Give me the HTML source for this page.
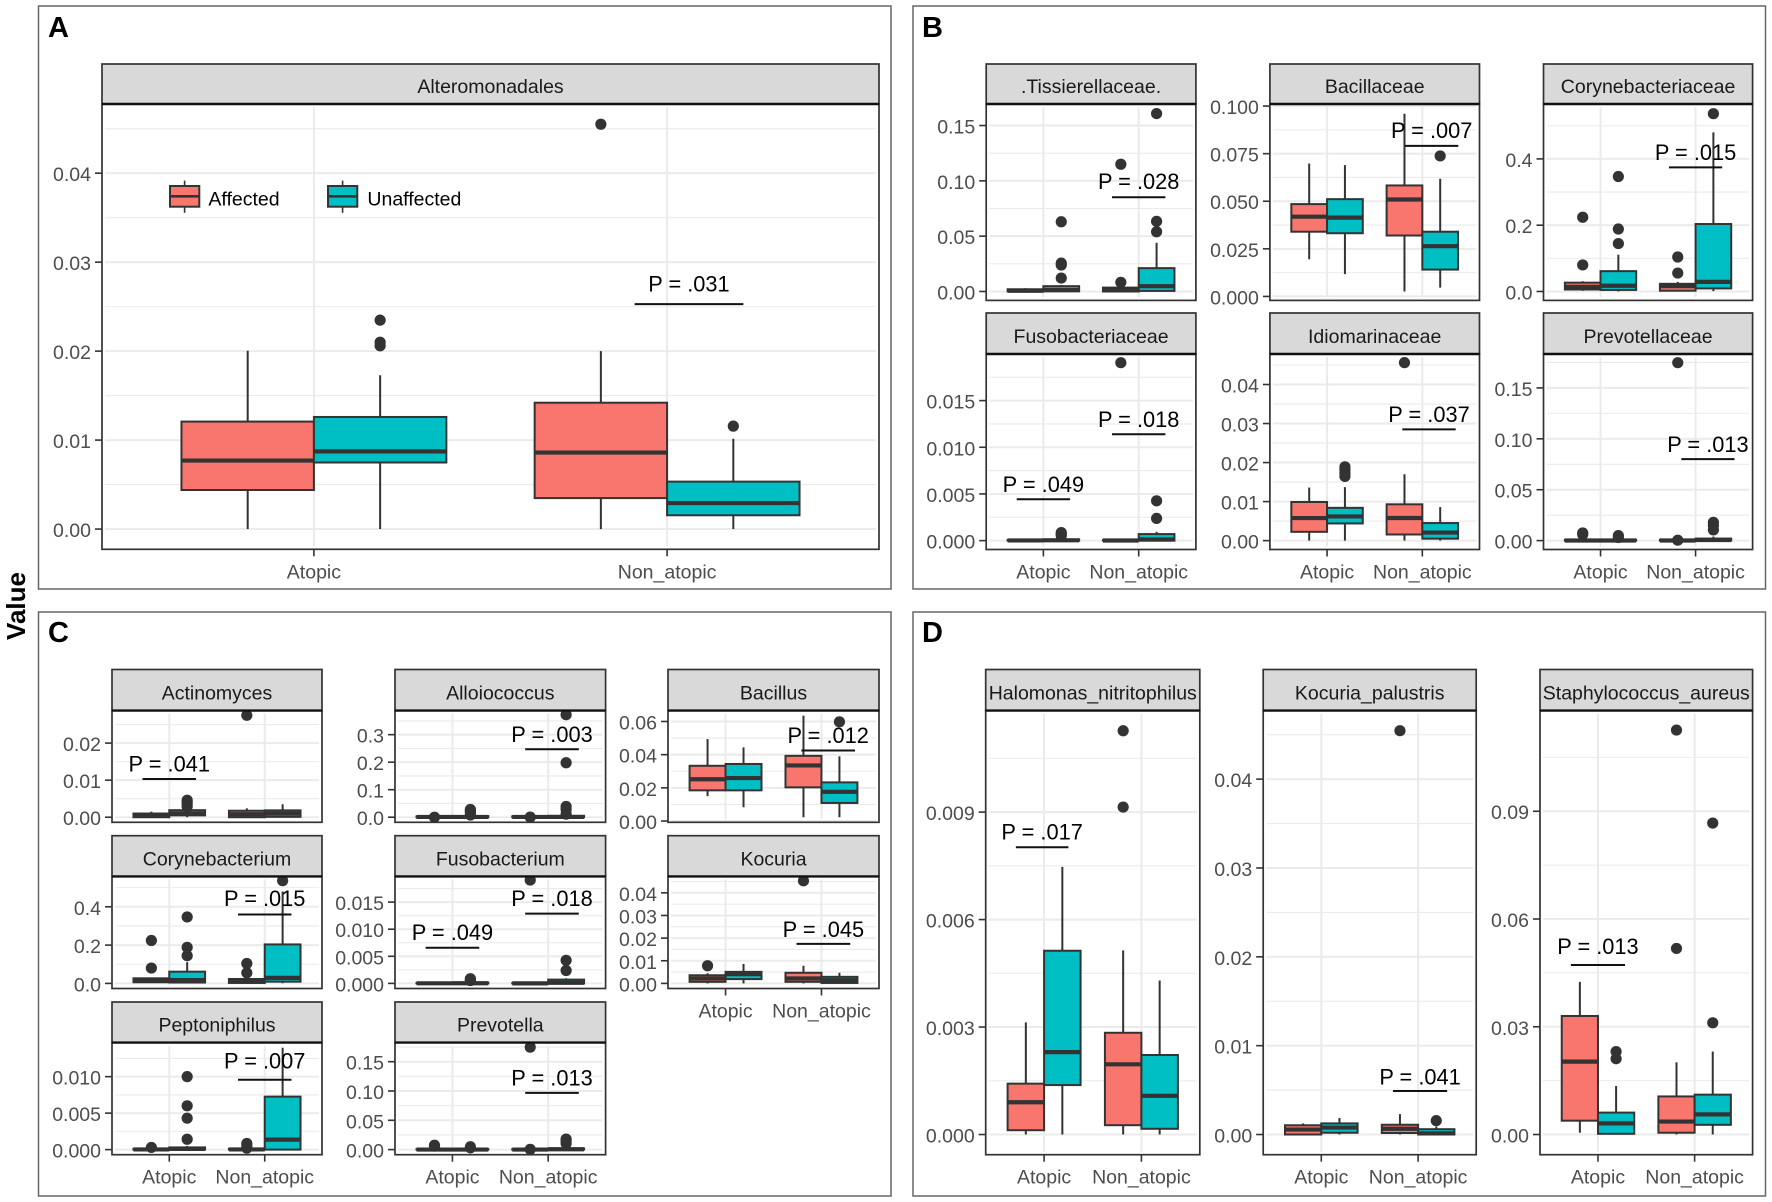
<!DOCTYPE html>
<html lang="en">
<head>
<meta charset="utf-8">
<title>Relative abundance boxplots by atopy and affected status</title>
<style>
html,body{margin:0;padding:0;background:#fff}
svg{display:block;font-family:"Liberation Sans",Arial,sans-serif}
</style>
</head>
<body>
<svg id="figure" xmlns="http://www.w3.org/2000/svg" width="1772" height="1202" viewBox="0 0 1772 1202">
  <rect x="0" y="0" width="1772" height="1202" fill="#ffffff"/>
  <rect x="38.5" y="6" width="852.5" height="583" fill="none" stroke="#666" stroke-width="1.5"/>
  <rect x="913" y="6" width="852.5" height="583" fill="none" stroke="#666" stroke-width="1.5"/>
  <rect x="38.5" y="612" width="852.5" height="584" fill="none" stroke="#666" stroke-width="1.5"/>
  <rect x="913" y="612" width="852.5" height="584" fill="none" stroke="#666" stroke-width="1.5"/>
  <text x="48" y="37" font-size="29" font-weight="bold" fill="#000">A</text>
  <text x="922" y="37" font-size="29" font-weight="bold" fill="#000">B</text>
  <text x="48" y="642" font-size="29" font-weight="bold" fill="#000">C</text>
  <text x="922" y="642" font-size="29" font-weight="bold" fill="#000">D</text>
  <text transform="translate(25,606) rotate(-90)" text-anchor="middle" font-size="26" font-weight="bold" fill="#000">Value</text>
  <g id="plots"></g>
  <g id="legend"></g>
</svg>
<script>
/* ---------- shared categories ---------- */
const categories = ['Atopic', 'Non_atopic'];
const groups = ['Affected', 'Unaffected'];
const facetNames = ['Alteromonadales', '.Tissierellaceae.', 'Bacillaceae', 'Corynebacteriaceae', 'Fusobacteriaceae', 'Idiomarinaceae', 'Prevotellaceae', 'Actinomyces', 'Alloiococcus', 'Bacillus', 'Corynebacterium', 'Fusobacterium', 'Kocuria', 'Peptoniphilus', 'Prevotella', 'Halomonas_nitritophilus', 'Kocuria_palustris', 'Staphylococcus_aureus'];

/* ---------- y-axis tick labels ---------- */
const ticksAlteromonadales = ['0.00', '0.01', '0.02', '0.03', '0.04'];
const ticksTissierellaceae = ['0.00', '0.05', '0.10', '0.15'];
const ticksBacillaceae = ['0.000', '0.025', '0.050', '0.075', '0.100'];
const ticksCorynebacteriaceae = ['0.0', '0.2', '0.4'];
const ticksFusobacteriaceae = ['0.000', '0.005', '0.010', '0.015'];
const ticksIdiomarinaceae = ['0.00', '0.01', '0.02', '0.03', '0.04'];
const ticksPrevotellaceae = ['0.00', '0.05', '0.10', '0.15'];
const ticksActinomyces = ['0.00', '0.01', '0.02'];
const ticksAlloiococcus = ['0.0', '0.1', '0.2', '0.3'];
const ticksBacillus = ['0.00', '0.02', '0.04', '0.06'];
const ticksCorynebacterium = ['0.0', '0.2', '0.4'];
const ticksFusobacterium = ['0.000', '0.005', '0.010', '0.015'];
const ticksKocuria = ['0.00', '0.01', '0.02', '0.03', '0.04'];
const ticksPeptoniphilus = ['0.000', '0.005', '0.010'];
const ticksPrevotella = ['0.00', '0.05', '0.10', '0.15'];
const ticksHalomonas = ['0.000', '0.003', '0.006', '0.009'];
const ticksKocuriaPalustris = ['0.00', '0.01', '0.02', '0.03', '0.04'];
const ticksStaphylococcus = ['0.00', '0.03', '0.06', '0.09'];

/* ---------- y data limits (before 5% expansion) ---------- */
const limitsAlteromonadales = [0, 0.0455];
const limitsTissierellaceae = [0, 0.1614];
const limitsBacillaceae = [0.0026, 0.0964];
const limitsCorynebacteriaceae = [0, 0.5387];
const limitsFusobacteriaceae = [0, 0.01904];
const limitsIdiomarinaceae = [0, 0.04554];
const limitsPrevotellaceae = [0, 0.1746];
const limitsActinomyces = [0, 0.0274];
const limitsAlloiococcus = [0, 0.369];
const limitsBacillus = [0.0023, 0.0635];
const limitsCorynebacterium = [0, 0.532];
const limitsFusobacterium = [0, 0.0188];
const limitsKocuria = [0, 0.045];
const limitsPeptoniphilus = [0, 0.01397];
const limitsPrevotella = [0, 0.1739];
const limitsHalomonas = [0, 0.01127];
const limitsKocuriaPalustris = [0, 0.04544];
const limitsStaphylococcus = [0, 0.1124];

/* ---------- box stats: [low whisker, q1, median, q3, high whisker]
   order: Atopic/Affected, Atopic/Unaffected, Non_atopic/Affected, Non_atopic/Unaffected ---------- */
const statsAlteromonadales = [[0, 0.00439, 0.0077, 0.01208, 0.02004], [0, 0.00748, 0.00873, 0.0126, 0.01729], [0, 0.00348, 0.0086, 0.0142, 0.02], [0, 0.00155, 0.00292, 0.00533, 0.01015]];
const statsTissierellaceae = [[0, 0.0001, 0.0006, 0.002, 0.003], [0, 0.0002, 0.0012, 0.0048, 0.0059], [0, 0, 0.001, 0.0035, 0.0042], [0, 0.0005, 0.0048, 0.0211, 0.044]];
const statsBacillaceae = [[0.0195, 0.034, 0.0419, 0.0485, 0.0698], [0.0117, 0.0332, 0.0414, 0.0511, 0.069], [0.0026, 0.032, 0.0509, 0.0583, 0.096], [0.0046, 0.0141, 0.0264, 0.034, 0.0618]];
const statsCorynebacteriaceae = [[0.002, 0.006, 0.014, 0.0266, 0.031], [0, 0.0046, 0.0173, 0.0613, 0.111], [0, 0.0023, 0.0162, 0.0231, 0.029], [0.001, 0.0092, 0.029, 0.2035, 0.48]];
const statsFusobacteriaceae = [[0, 0, 0.00002, 0.00008, 0.00015], [0, 0, 0.00003, 0.00013, 0.00025], [0, 0, 0.00001, 0.00006, 0.0001], [0, 0, 0.00012, 0.0007, 0.00095]];
const statsIdiomarinaceae = [[0, 0.00225, 0.00578, 0.0099, 0.0136], [0, 0.0044, 0.0062, 0.0084, 0.0137], [0, 0.00157, 0.0058, 0.0093, 0.017], [0, 0.0005, 0.00206, 0.0045, 0.0086]];
const statsPrevotellaceae = [[0, 0, 0.0001, 0.0008, 0.0015], [0, 0, 0.0001, 0.0008, 0.0015], [0, 0, 0.0001, 0.0008, 0.0015], [0, 0.0002, 0.0006, 0.002, 0.004]];
const statsActinomyces = [[0, 0, 0.0005, 0.001, 0.0015], [0, 0.0005, 0.001, 0.0019, 0.0024], [0, 0, 0.0008, 0.00175, 0.0024], [0, 0.0001, 0.001, 0.00185, 0.0035]];
const statsAlloiococcus = [[0, 0, 0.001, 0.003, 0.004], [0, 0, 0.001, 0.004, 0.006], [0, 0, 0.001, 0.003, 0.004], [0, 0.0003, 0.001, 0.005, 0.008]];
const statsBacillus = [[0.015, 0.0185, 0.0252, 0.0333, 0.0494], [0.0083, 0.0185, 0.0259, 0.0344, 0.0444], [0.0023, 0.0203, 0.0335, 0.0393, 0.0635], [0.0023, 0.0109, 0.0176, 0.0233, 0.039]];
const statsCorynebacterium = [[0.002, 0.006, 0.014, 0.0266, 0.031], [0, 0.0046, 0.0173, 0.0613, 0.111], [0, 0.0023, 0.0162, 0.0231, 0.029], [0.001, 0.0092, 0.029, 0.2035, 0.48]];
const statsFusobacterium = [[0, 0, 0.00002, 0.00008, 0.00015], [0, 0, 0.00003, 0.00013, 0.00025], [0, 0, 0.00001, 0.00006, 0.0001], [0, 0, 0.00012, 0.0007, 0.00095]];
const statsKocuria = [[0, 0.0007, 0.0022, 0.0036, 0.0045], [0, 0.0019, 0.0041, 0.0051, 0.0086], [0, 0.0007, 0.0022, 0.0047, 0.0078], [0, 0.0002, 0.0014, 0.0029, 0.0047]];
const statsPeptoniphilus = [[0, 0, 0.00002, 0.0001, 0.00018], [0, 0.00001, 0.0001, 0.0003, 0.0005], [0, 0, 0.00002, 0.00012, 0.00025], [0, 0, 0.00137, 0.00726, 0.01397]];
const statsPrevotella = [[0, 0, 0.0001, 0.0008, 0.0015], [0, 0, 0.0001, 0.0008, 0.0015], [0, 0, 0.0001, 0.0008, 0.0015], [0, 0.0002, 0.0006, 0.002, 0.004]];
const statsHalomonas = [[0, 0.00012, 0.0009, 0.00142, 0.00313], [0, 0.00138, 0.0023, 0.00513, 0.00747], [0, 0.00026, 0.00196, 0.00284, 0.00514], [0, 0.00016, 0.00108, 0.00222, 0.0043]];
const statsKocuriaPalustris = [[0, 0, 0.00056, 0.00104, 0.00125], [0, 0.0002, 0.00078, 0.00125, 0.00186], [0, 0.00017, 0.00065, 0.0011, 0.0023], [0, 0, 0.00013, 0.0006, 0.0009]];
const statsStaphylococcus = [[0.0005, 0.00385, 0.0203, 0.033, 0.0425], [0, 0.0002, 0.0031, 0.0061, 0.0135], [0, 0.0005, 0.0036, 0.0106, 0.0201], [0, 0.0027, 0.0056, 0.0111, 0.0231]];

/* ---------- outliers, same box order ---------- */
const outliersAlteromonadales = [[], [0.0206, 0.021, 0.02348], [0.0455], [0.01157]];
const outliersTissierellaceae = [[], [0.0121, 0.0239, 0.0256, 0.063], [0.0083, 0.115], [0.054, 0.0634, 0.1608]];
const outliersBacillaceae = [[], [], [], [0.0738]];
const outliersCorynebacteriaceae = [[0.08, 0.224], [0.1445, 0.1884, 0.3468], [0.0555, 0.104], [0.5364]];
const outliersFusobacteriaceae = [[], [0.00053, 0.0007, 0.00086], [0.01906], [0.00238, 0.00426]];
const outliersIdiomarinaceae = [[], [0.01646, 0.0172, 0.0181, 0.0189], [0.0456], []];
const outliersPrevotellaceae = [[0.006, 0.0075], [0.003, 0.0049], [0.0004, 0.1748], [0.0105, 0.0147, 0.018]];
const outliersActinomyces = [[], [0.0029, 0.0036, 0.0041, 0.0046], [0.0275], []];
const outliersAlloiococcus = [[0.0002], [0.008, 0.017, 0.022, 0.028], [0.0005], [0.011, 0.028, 0.039, 0.198, 0.3725]];
const outliersBacillus = [[], [], [], [0.0598]];
const outliersCorynebacterium = [[0.08, 0.224], [0.1445, 0.1884, 0.3468], [0.0555, 0.104], [0.5364]];
const outliersFusobacterium = [[], [0.00053, 0.0007, 0.00086], [0.01906], [0.00238, 0.00426]];
const outliersKocuria = [[0.0078], [], [0.0453], []];
const outliersPeptoniphilus = [[0.0003], [0.00142, 0.00431, 0.006, 0.01], [0.0002, 0.0005, 0.00084], []];
const outliersPrevotella = [[0.006, 0.0075], [0.003, 0.0049], [0.0004, 0.1748], [0.0105, 0.0147, 0.018]];
const outliersHalomonas = [[], [], [0.00914, 0.01127], []];
const outliersKocuriaPalustris = [[], [], [0.04545], [0.00156]];
const outliersStaphylococcus = [[], [0.0211, 0.0231], [0.0518, 0.1126], [0.0311, 0.0867]];

/* ---------- significance annotations: [label, category position, half span, bar y value, label y value] ---------- */
const pAlteromonadales = [['P = .031', 2.062, 0.154, 0.02528, 0.0267]];
const pTissierellaceae = [['P = .028', 2.0, 0.28, 0.0852, 0.0925]];
const pBacillaceae = [['P = .007', 2.098, 0.28, 0.0791, 0.0831]];
const pCorynebacteriaceae = [['P = .015', 2.0, 0.28, 0.3745, 0.397]];
const pFusobacteriaceae = [['P = .049', 1.0, 0.28, 0.00443, 0.0052], ['P = .018', 2.0, 0.28, 0.0114, 0.01217]];
const pIdiomarinaceae = [['P = .037', 2.07, 0.28, 0.0285, 0.0304]];
const pPrevotellaceae = [['P = .013', 2.13, 0.28, 0.0801, 0.0873]];
const pActinomyces = [['P = .041', 1.0, 0.28, 0.0103, 0.0124]];
const pAlloiococcus = [['P = .003', 2.04, 0.28, 0.247, 0.2726]];
const pBacillus = [['P = .012', 2.07, 0.28, 0.0425, 0.0471]];
const pCorynebacterium = [['P = .015', 2.0, 0.28, 0.36, 0.4036]];
const pFusobacterium = [['P = .049', 1.0, 0.28, 0.00658, 0.00802], ['P = .018', 2.04, 0.28, 0.01288, 0.01432]];
const pKocuria = [['P = .045', 2.02, 0.28, 0.01746, 0.0204]];
const pPeptoniphilus = [['P = .007', 2.0, 0.28, 0.00957, 0.01112]];
const pPrevotella = [['P = .013', 2.04, 0.28, 0.0969, 0.1094]];
const pHalomonas = [['P = .017', 0.98, 0.27, 0.00802, 0.00824]];
const pKocuriaPalustris = [['P = .041', 2.02, 0.28, 0.0049, 0.00563]];
const pStaphylococcus = [['P = .013', 1.0, 0.28, 0.0472, 0.0503]];

const facetTicks = [ticksAlteromonadales, ticksTissierellaceae, ticksBacillaceae, ticksCorynebacteriaceae, ticksFusobacteriaceae, ticksIdiomarinaceae, ticksPrevotellaceae, ticksActinomyces, ticksAlloiococcus, ticksBacillus, ticksCorynebacterium, ticksFusobacterium, ticksKocuria, ticksPeptoniphilus, ticksPrevotella, ticksHalomonas, ticksKocuriaPalustris, ticksStaphylococcus];
const facetLimits = [limitsAlteromonadales, limitsTissierellaceae, limitsBacillaceae, limitsCorynebacteriaceae, limitsFusobacteriaceae, limitsIdiomarinaceae, limitsPrevotellaceae, limitsActinomyces, limitsAlloiococcus, limitsBacillus, limitsCorynebacterium, limitsFusobacterium, limitsKocuria, limitsPeptoniphilus, limitsPrevotella, limitsHalomonas, limitsKocuriaPalustris, limitsStaphylococcus];
const facetStats = [statsAlteromonadales, statsTissierellaceae, statsBacillaceae, statsCorynebacteriaceae, statsFusobacteriaceae, statsIdiomarinaceae, statsPrevotellaceae, statsActinomyces, statsAlloiococcus, statsBacillus, statsCorynebacterium, statsFusobacterium, statsKocuria, statsPeptoniphilus, statsPrevotella, statsHalomonas, statsKocuriaPalustris, statsStaphylococcus];
const facetOutliers = [outliersAlteromonadales, outliersTissierellaceae, outliersBacillaceae, outliersCorynebacteriaceae, outliersFusobacteriaceae, outliersIdiomarinaceae, outliersPrevotellaceae, outliersActinomyces, outliersAlloiococcus, outliersBacillus, outliersCorynebacterium, outliersFusobacterium, outliersKocuria, outliersPeptoniphilus, outliersPrevotella, outliersHalomonas, outliersKocuriaPalustris, outliersStaphylococcus];
const facetP = [pAlteromonadales, pTissierellaceae, pBacillaceae, pCorynebacteriaceae, pFusobacteriaceae, pIdiomarinaceae, pPrevotellaceae, pActinomyces, pAlloiococcus, pBacillus, pCorynebacterium, pFusobacterium, pKocuria, pPeptoniphilus, pPrevotella, pHalomonas, pKocuriaPalustris, pStaphylococcus];

/* ---------- page layout (panel frames, not data) ---------- */
const LAYOUT = (function () {
  const bCols = [[986.2, 1195.9], [1269.9, 1479.5], [1543.5, 1752.6]];
  const cCols = [[112, 322], [395, 605.6], [668, 879]];
  const dCols = [[985.7, 1199.8], [1263.2, 1476.2], [1540, 1752.6]];
  const f = function (col, rowBox, showX) {
    return { x0: col[0], x1: col[1], stripTop: rowBox[0], top: rowBox[1], bottom: rowBox[2], showX: showX };
  };
  const bR1 = [64, 104, 300.4], bR2 = [313, 354, 549.5];
  const cR1 = [669.5, 710.6, 822.3], cR2 = [835.7, 876.4, 988.5], cR3 = [1002, 1042.6, 1154.7];
  const dR = [669.5, 710.6, 1154.7];
  return [
    f([102, 879], [64, 104, 549.3], true),
    f(bCols[0], bR1, false), f(bCols[1], bR1, false), f(bCols[2], bR1, false),
    f(bCols[0], bR2, true), f(bCols[1], bR2, true), f(bCols[2], bR2, true),
    f(cCols[0], cR1, false), f(cCols[1], cR1, false), f(cCols[2], cR1, false),
    f(cCols[0], cR2, false), f(cCols[1], cR2, false), f(cCols[2], cR2, true),
    f(cCols[0], cR3, true), f(cCols[1], cR3, true),
    f(dCols[0], dR, true), f(dCols[1], dR, true), f(dCols[2], dR, true)
  ];
})();

const GROUP_FILL = ['#F8766D', '#00BFC4'];
const INK = '#333333';
const SVGNS = 'http://www.w3.org/2000/svg';

function make(tag, attrs, parent) {
  const node = document.createElementNS(SVGNS, tag);
  for (const k in attrs) node.setAttribute(k, attrs[k]);
  parent.appendChild(node);
  return node;
}
function slugOf(s) {
  return s.toLowerCase().replace(/[^a-z0-9]+/g, '-').replace(/^-|-$/g, '');
}

function drawFacet(i) {
  const box = LAYOUT[i];
  const name = facetNames[i];
  const slug = slugOf(name);
  const lim = facetLimits[i];
  const h = box.bottom - box.top;
  const inner = h / 1.1;
  const pad = inner * 0.05;
  const unit = (box.x1 - box.x0) / 2.2;

  /* axis functions */
  const yScale = function (v) { return box.bottom - pad - (v - lim[0]) / (lim[1] - lim[0]) * inner; };
  const xScale = function (c) { return box.x0 + (c - 0.4) * unit; };

  const g = make('g', {}, document.getElementById('plots'));
  
  

  /* grid */
  const grid = make('g', { stroke: '#EBEBEB', fill: 'none' }, g);
  
  
  const tickVals = facetTicks[i].map(Number);
  const step = tickVals[1] - tickVals[0];
  for (let m = tickVals[0] - step / 2; m <= tickVals[tickVals.length - 1] + step / 2 + 1e-9; m += step) {
    const my = yScale(m);
    if (my < box.top + 1 || my > box.bottom - 1) continue;
    const minor = make('line', { x1: box.x0 + 3, x2: box.x1 - 3, y1: my, y2: my, 'stroke-width': 1.1 }, grid);
    
    
  }
  tickVals.forEach(function (v) {
    const gy = yScale(v);
    const major = make('line', { x1: box.x0 + 3, x2: box.x1 - 3, y1: gy, y2: gy, 'stroke-width': 2 }, grid);
    
    
  });
  categories.forEach(function (c, ci) {
    const gx = xScale(ci + 1);
    const vertical = make('line', { x1: gx, x2: gx, y1: box.top + 3, y2: box.bottom - 3, 'stroke-width': 2 }, grid);
    
    
  });

  /* boxes */
  facetStats[i].forEach(function (s, b) {
    const cat = Math.floor(b / 2);
    const grp = b % 2;
    const cx = xScale(cat + 1 + (grp === 0 ? -0.1875 : 0.1875));
    const hw = 0.1875 * unit;
    const bg = make('g', {}, g);
    
    
    const whiskHigh = make('line', { x1: cx, x2: cx, y1: yScale(s[3]), y2: yScale(s[4]), stroke: INK, 'stroke-width': 2 }, bg);
    
    
    const whiskLow = make('line', { x1: cx, x2: cx, y1: yScale(s[1]), y2: yScale(s[0]), stroke: INK, 'stroke-width': 2 }, bg);
    
    
    const rect = make('rect', { x: cx - hw, y: yScale(s[3]), width: 2 * hw, height: Math.max(0, yScale(s[1]) - yScale(s[3])), fill: GROUP_FILL[grp], stroke: INK, 'stroke-width': 2 }, bg);
    
    
    const med = make('line', { x1: cx - hw, x2: cx + hw, y1: yScale(s[2]), y2: yScale(s[2]), stroke: INK, 'stroke-width': 4.2 }, bg);
    
    
    facetOutliers[i][b].forEach(function (v) {
      const dot = make('circle', { cx: cx, cy: yScale(v), r: 5.6, fill: INK }, bg);
      
      
    });
  });

  /* significance annotations */
  facetP[i].forEach(function (p) {
    const px = xScale(p[1]);
    const py = yScale(p[3]);
    const bar = make('line', { x1: xScale(p[1] - p[2]), x2: xScale(p[1] + p[2]), y1: py, y2: py, stroke: '#111', 'stroke-width': 2 }, g);
    
    
    const lab = make('text', { x: px, y: yScale(p[4]), 'text-anchor': 'middle', 'font-size': 21.8, fill: '#000' }, g);
    lab.textContent = p[0];
    
    
  });

  /* panel border */
  const border = make('rect', { x: box.x0, y: box.top, width: box.x1 - box.x0, height: h, fill: 'none', stroke: INK, 'stroke-width': 1.7 }, g);
  
  

  /* strip */
  const strip = make('rect', { x: box.x0, y: box.stripTop, width: box.x1 - box.x0, height: box.top - box.stripTop, fill: '#D9D9D9', stroke: INK, 'stroke-width': 1.7 }, g);
  
  
  const stripEdge = make('line', { x1: box.x0, x2: box.x1, y1: box.top, y2: box.top, stroke: '#111', 'stroke-width': 2.4 }, g);
  
  
  const stripLabel = make('text', { x: (box.x0 + box.x1) / 2, y: box.top - 11, 'text-anchor': 'middle', 'font-size': 19.5, fill: '#1A1A1A' }, g);
  stripLabel.textContent = name;
  
  

  /* y axis */
  facetTicks[i].forEach(function (label) {
    const ty = yScale(Number(label));
    const mark = make('line', { x1: box.x0 - 7, x2: box.x0, y1: ty, y2: ty, stroke: INK, 'stroke-width': 1.6 }, g);
    
    
    const t = make('text', { x: box.x0 - 11, y: ty + 8, 'text-anchor': 'end', 'font-size': 19.5, fill: '#4D4D4D' }, g);
    t.textContent = label;
    
    
  });

  /* x axis */
  if (box.showX) {
    categories.forEach(function (c, ci) {
      const tx = xScale(ci + 1);
      const mark = make('line', { x1: tx, x2: tx, y1: box.bottom, y2: box.bottom + 7, stroke: INK, 'stroke-width': 1.6 }, g);
      
      
      const t = make('text', { x: tx, y: box.bottom + 29, 'text-anchor': 'middle', 'font-size': 19.5, fill: '#4D4D4D' }, g);
      t.textContent = c;
      
      
    });
  }
}

function drawLegend() {
  const root = document.getElementById('legend');
  const keyX = [170, 328];
  const labelX = [208.4, 367.4];
  groups.forEach(function (name, g) {
    const item = make('g', {}, root);
    
    
    const cx = keyX[g] + 14.6;
    const w = make('line', { x1: cx, x2: cx, y1: 180.6, y2: 212.8, stroke: INK, 'stroke-width': 1.6 }, item);
    
    
    const r = make('rect', { x: keyX[g], y: 186, width: 29.3, height: 20.7, fill: GROUP_FILL[g], stroke: INK, 'stroke-width': 2 }, item);
    
    
    const m = make('line', { x1: keyX[g], x2: keyX[g] + 29.3, y1: 196.3, y2: 196.3, stroke: INK, 'stroke-width': 2.6 }, item);
    
    
    const t = make('text', { x: labelX[g], y: 205.5, 'font-size': 19.5, fill: '#000' }, item);
    t.textContent = name;
    
    
  });
}

facetNames.forEach(function (n, i) { drawFacet(i); });
drawLegend();
</script>
</body>
</html>
